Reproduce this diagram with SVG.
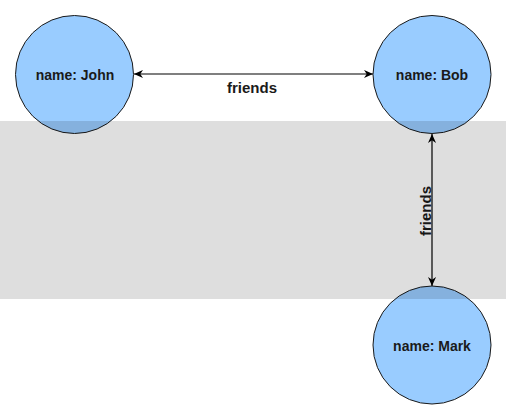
<svg xmlns="http://www.w3.org/2000/svg" width="507" height="420" viewBox="0 0 507 420">
<style>
.node{fill:#99ccff;stroke:#1a1a1a;stroke-width:1}
.lbl{font-family:"Liberation Sans",Arial,sans-serif;font-weight:bold;font-size:14px;fill:#1a1a1a;text-anchor:middle}
.elbl{font-family:"Liberation Sans",Arial,sans-serif;font-weight:bold;font-size:15px;fill:#1a1a1a;text-anchor:middle}
.edge{stroke:#000;stroke-width:1.2;fill:none;marker-start:url(#ah);marker-end:url(#ah)}
</style>
<defs>
<marker id="ah" viewBox="0 0 10 10" refX="10" refY="5" markerWidth="9" markerHeight="9" markerUnits="userSpaceOnUse" orient="auto-start-reverse">
<path d="M0,0.5 L10,5 L0,9.5 L3,5 z" fill="#000"/>
</marker>
</defs>
<rect x="0" y="0" width="507" height="420" fill="#fff"/>
<g id="connectors">
<line class="edge" x1="134" y1="74" x2="373" y2="74"/>
<text class="elbl" x="252" y="93">friends</text>
<line class="edge" x1="432" y1="134" x2="432" y2="286"/>
<text class="elbl" transform="translate(430.5,211) rotate(-90)" x="0" y="0">friends</text>
</g>
<g id="john">
<circle class="node" cx="74.5" cy="74.5" r="59"/>
<text class="lbl" x="75" y="80">name: John</text>
</g>
<g id="bob">
<circle class="node" cx="432" cy="74.5" r="59"/>
<text class="lbl" x="432" y="80">name: Bob</text>
</g>
<g id="mark">
<circle class="node" cx="432" cy="345" r="59"/>
<text class="lbl" x="432" y="351">name: Mark</text>
</g>
<rect x="0" y="121" width="506" height="178" fill="#000" fill-opacity="0.13"/>
</svg>
